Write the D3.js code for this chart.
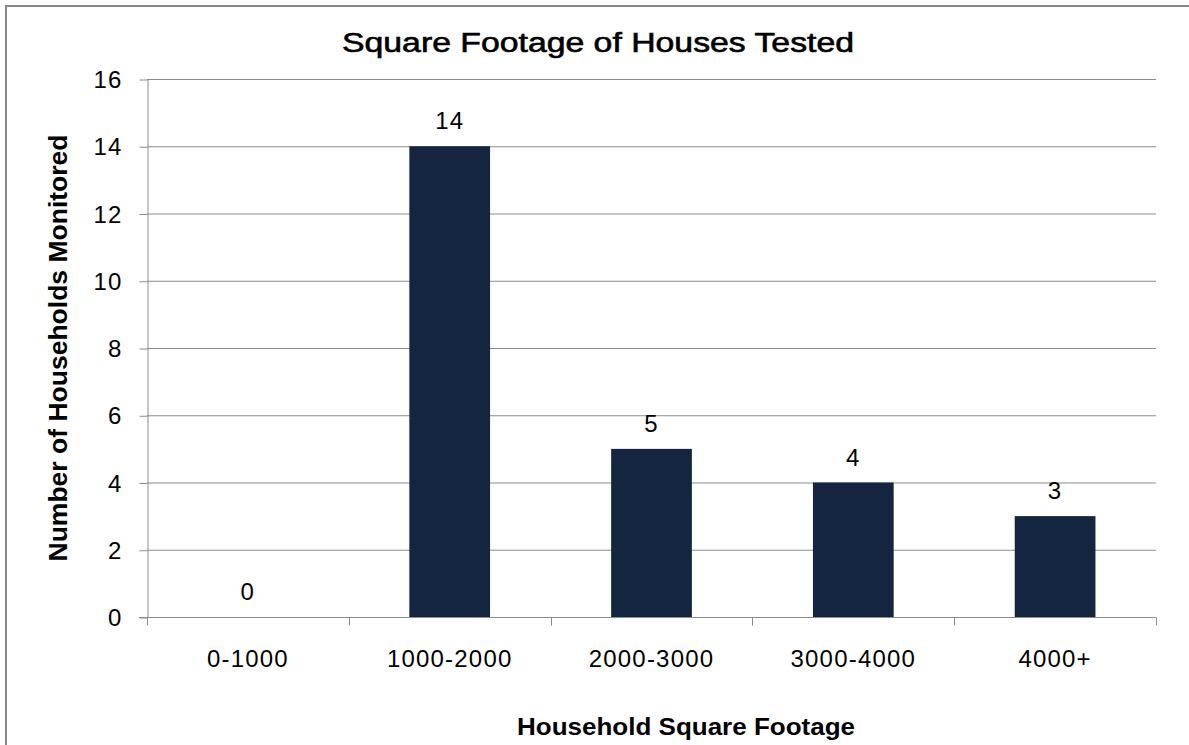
<!DOCTYPE html>
<html>
<head>
<meta charset="utf-8">
<script src="https://cdn.jsdelivr.net/npm/d3@7"></script>
<style>
  body { margin: 0; background: #fff; }
  svg { display: block; font-family: "Liberation Sans", Arial, sans-serif; }
  .tick text { font-size: 24px; letter-spacing: 1.2px; fill: #000; }
  .tick line, .domain { stroke: #8c8c8c; }
</style>
</head>
<body>
<svg width="1189" height="745"></svg>
<script>
// Chart data
var categories = ["0-1000", "1000-2000", "2000-3000", "3000-4000", "4000+"];
var households = [0, 14, 5, 4, 3];
var yTicks = [0, 2, 4, 6, 8, 10, 12, 14, 16];

var titleText = "Square Footage of Houses Tested";
var xTitleText = "Household Square Footage";
var yTitleText = "Number of Households Monitored";

var svg = d3.select("svg");

// Outer frame of the chart (runs off the right and bottom of the picture).
svg.append("rect")
  .attr("x", 6)
  .attr("y", 6)
  .attr("width", 1200)
  .attr("height", 760)
  .attr("fill", "#fff")
  .attr("stroke", "#888")
  .attr("stroke-width", 2);

var plot = { left: 147, right: 1156, top: 79, bottom: 617 };

var x = d3.scaleBand()
  .domain(categories)
  .range([plot.left, plot.right])
  .paddingInner(0.6)
  .paddingOuter(0.3);

var y = d3.scaleLinear()
  .domain([0, 16])
  .range([plot.bottom, plot.top]);

// Horizontal gridlines
svg.append("g")
  .selectAll("line")
  .data(yTicks.filter(function(d) { return d > 0; }))
  .enter().append("line")
    .attr("x1", plot.left)
    .attr("x2", plot.right)
    .attr("y1", function(d) { return y(d) + 0.5; })
    .attr("y2", function(d) { return y(d) + 0.5; })
    .attr("stroke", "#8c8c8c")
    .attr("stroke-width", 1);

// Bars
svg.append("g")
  .selectAll("rect")
  .data(households)
  .enter().append("rect")
    .attr("x", function(d, i) { return x(categories[i]); })
    .attr("y", function(d) { return y(d); })
    .attr("width", x.bandwidth())
    .attr("height", function(d) { return y(0) - y(d); })
    .attr("fill", "#13253f");

// Data labels
svg.append("g")
  .selectAll("text")
  .data(households)
  .enter().append("text")
    .attr("x", function(d, i) { return x(categories[i]) + x.bandwidth() / 2; })
    .attr("y", function(d) { return y(d) - 17; })
    .attr("text-anchor", "middle")
    .attr("font-size", "24px")
    .attr("letter-spacing", "1.2px")
    .text(function(d) { return d; });

// Y axis
var yAxis = svg.append("g")
  .attr("transform", "translate(" + (plot.left + 0.5) + ",0)")
  .call(d3.axisLeft(y).tickValues(yTicks).tickSize(8).tickPadding(17).tickSizeOuter(0));
yAxis.selectAll(".tick line").attr("transform", "translate(0,0.5)");
yAxis.selectAll(".tick text").attr("dy", "0.36em").attr("font-size", "25px");

// X axis: ticks sit on the category boundaries
var xAxis = svg.append("g")
  .attr("transform", "translate(0," + (plot.bottom + 0.5) + ")");
xAxis.append("line")
  .attr("x1", plot.left - 8)
  .attr("x2", plot.right)
  .attr("stroke", "#8c8c8c");
var step = x.step();
var bounds = d3.range(categories.length + 1).map(function(i) {
  return x(categories[0]) - step * x.paddingOuter() + i * step;
});
xAxis.selectAll(".bound")
  .data(bounds)
  .enter().append("line")
    .attr("class", "bound")
    .attr("x1", function(d) { return Math.round(d) + 0.5; })
    .attr("x2", function(d) { return Math.round(d) + 0.5; })
    .attr("y1", 0)
    .attr("y2", 8)
    .attr("stroke", "#8c8c8c");
xAxis.selectAll(".cat")
  .data(categories)
  .enter().append("text")
    .attr("class", "cat")
    .attr("x", function(d) { return x(d) + x.bandwidth() / 2; })
    .attr("y", 49)
    .attr("text-anchor", "middle")
    .attr("font-size", "24px")
    .attr("letter-spacing", "1.2px")
    .text(function(d) { return d; });

// Titles
svg.append("text")
  .attr("x", 598)
  .attr("y", 52)
  .attr("text-anchor", "middle")
  .attr("font-size", "27px")
  .attr("stroke", "#000")
  .attr("stroke-width", 0.6)
  .attr("textLength", 512)
  .attr("lengthAdjust", "spacingAndGlyphs")
  .text(titleText);

svg.append("text")
  .attr("x", 686)
  .attr("y", 735)
  .attr("text-anchor", "middle")
  .attr("font-size", "24px")
  .attr("font-weight", "bold")
  .attr("textLength", 338)
  .attr("lengthAdjust", "spacingAndGlyphs")
  .text(xTitleText);

svg.append("text")
  .attr("transform", "translate(67,348) rotate(-90)")
  .attr("text-anchor", "middle")
  .attr("font-size", "26px")
  .attr("font-weight", "bold")
  .attr("textLength", 427)
  .attr("lengthAdjust", "spacingAndGlyphs")
  .text(yTitleText);
</script>
</body>
</html>
